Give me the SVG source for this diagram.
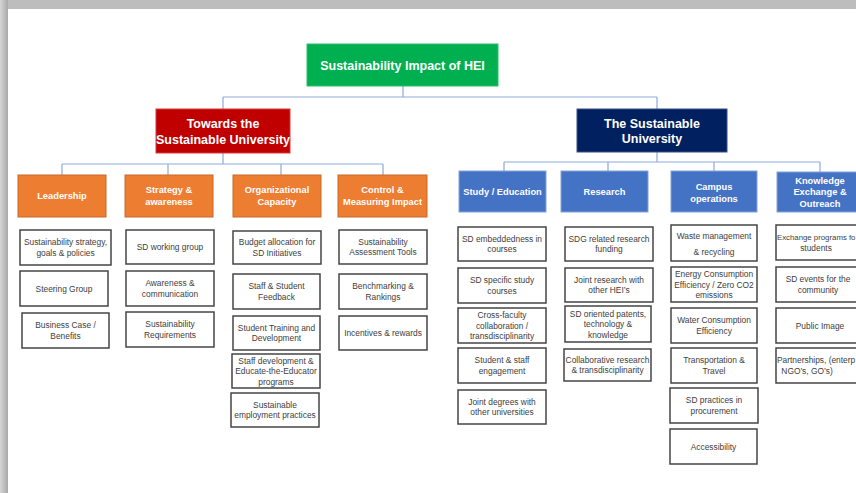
<svg xmlns="http://www.w3.org/2000/svg" width="856" height="493" viewBox="0 0 856 493">
<defs>
<linearGradient id="lg" x1="0" y1="0" x2="1" y2="0">
<stop offset="0" stop-color="#d6d6d6"/><stop offset="1" stop-color="#a8a8a8"/>
</linearGradient>
<style>
.hd{font-family:"Liberation Sans",Arial,sans-serif;font-weight:bold;fill:#fff;text-anchor:middle}
.h1{font-size:12.5px}
.h2{font-size:9.3px}
.lf rect{fill:#fff;stroke:#454545;stroke-width:1.5}
.lf text{font-family:"Liberation Sans",Arial,sans-serif;font-size:8.4px;fill:#404040;text-anchor:middle}
.lf text.st{text-anchor:start}
.org rect{fill:#ED7D31;stroke:#c9682a;stroke-width:1}
.blu rect{fill:#4472C4;stroke:#86a2d8;stroke-width:1}
.conn{fill:none;stroke:#8EAADB;stroke-width:1.2}
</style>
</defs>
<rect width="856" height="493" fill="#fff"/>
<rect x="0" y="0" width="856" height="9" fill="#bdbdbd"/>
<rect x="0" y="0" width="8" height="493" fill="url(#lg)"/>

<g id="connectors" class="conn">
<path d="M403 86V97M223 97H657M223 97V109M657 97V109"/>
<path d="M223 153V164M62 164H383M62 164V175M168 164V175M281 164V175M383 164V175"/>
<path d="M657 152V162M504 162H820M504 162V171M608 162V171M714 162V171M820 162V172"/>
</g>

<g id="root"><rect x="307" y="44" width="191" height="42" fill="#00B050" stroke="#2fbf6a"/>
<text class="hd h1" x="402.5" y="69.5">Sustainability Impact of HEI</text></g>

<g id="towards"><rect x="156" y="109" width="134" height="44" fill="#C00000" stroke="#d43a3a"/>
<text class="hd h1" x="223" y="127.5">Towards the</text><text class="hd h1" x="223" y="143.5">Sustainable University</text></g>

<g id="sustainable"><rect x="577" y="109" width="150" height="43" fill="#002060" stroke="#3a4f86"/>
<text class="hd h1" x="652" y="127.5">The Sustainable</text><text class="hd h1" x="652" y="142.5">University</text></g>

<g id="leadership" class="org"><rect x="18" y="175" width="88" height="42"/><text class="hd h2" x="62" y="199">Leadership</text></g>
<g id="strategy" class="org"><rect x="125" y="175" width="88" height="42"/><text class="hd h2" x="169" y="192.5">Strategy &amp;</text><text class="hd h2" x="169" y="204.5">awareness</text></g>
<g id="organizational" class="org"><rect x="233" y="175" width="88" height="42"/><text class="hd h2" x="277" y="192.5">Organizational</text><text class="hd h2" x="277" y="204.5">Capacity</text></g>
<g id="control" class="org"><rect x="338" y="175" width="89" height="42"/><text class="hd h2" x="382.5" y="192.5">Control &amp;</text><text class="hd h2" x="382.5" y="204.5">Measuring Impact</text></g>

<g id="study" class="blu"><rect x="459" y="171" width="87" height="41"/><text class="hd h2" x="502.5" y="194.5">Study / Education</text></g>
<g id="research" class="blu"><rect x="561" y="171" width="87" height="41"/><text class="hd h2" x="604.5" y="194.5">Research</text></g>
<g id="campus" class="blu"><rect x="671" y="171" width="86" height="41"/><text class="hd h2" x="714" y="189.5">Campus</text><text class="hd h2" x="714" y="201.5">operations</text></g>
<g id="knowledge" class="blu"><rect x="777" y="172" width="88" height="40"/><text class="hd h2" x="820" y="183.5">Knowledge</text><text class="hd h2" x="820" y="195">Exchange &amp;</text><text class="hd h2" x="820" y="206.5">Outreach</text></g>

<g id="l1" class="lf"><rect x="20" y="230" width="91" height="35"/><text x="65.5" y="245.3">Sustainability strategy,</text><text x="65.5" y="255.8">goals &amp; policies</text></g>
<g id="l2" class="lf"><rect x="20" y="271" width="88" height="35"/><text x="64" y="291.5">Steering Group</text></g>
<g id="l3" class="lf"><rect x="22" y="313" width="87" height="35"/><text x="65.5" y="328.3">Business Case /</text><text x="65.5" y="338.8">Benefits</text></g>

<g id="s1" class="lf"><rect x="126" y="230" width="88" height="34"/><text x="170" y="250">SD working group</text></g>
<g id="s2" class="lf"><rect x="126" y="271" width="88" height="35"/><text x="170" y="286.3">Awareness &amp;</text><text x="170" y="296.8">communication</text></g>
<g id="s3" class="lf"><rect x="126" y="312" width="88" height="35"/><text x="170" y="327.3">Sustainability</text><text x="170" y="337.8">Requirements</text></g>

<g id="o1" class="lf"><rect x="233" y="231" width="88" height="33"/><text x="277" y="245.3">Budget allocation for</text><text x="277" y="255.8">SD Initiatives</text></g>
<g id="o2" class="lf"><rect x="233" y="274" width="87" height="35"/><text x="276.5" y="289.3">Staff &amp; Student</text><text x="276.5" y="299.8">Feedback</text></g>
<g id="o3" class="lf"><rect x="233" y="316" width="87" height="34"/><text x="276.5" y="330.8">Student Training and</text><text x="276.5" y="341.3">Development</text></g>
<g id="o4" class="lf"><rect x="232" y="354" width="88" height="34"/><text x="276" y="363.5">Staff development &amp;</text><text x="276" y="374">Educate-the-Educator</text><text x="276" y="384.5">programs</text></g>
<g id="o5" class="lf"><rect x="231" y="393" width="88" height="34"/><text x="275" y="407.8">Sustainable</text><text x="275" y="418.3">employment practices</text></g>

<g id="c1" class="lf"><rect x="339" y="230" width="88" height="34"/><text x="383" y="244.8">Sustainability</text><text x="383" y="255.3">Assessment Tools</text></g>
<g id="c2" class="lf"><rect x="339" y="274" width="88" height="35"/><text x="383" y="289.3">Benchmarking &amp;</text><text x="383" y="299.8">Rankings</text></g>
<g id="c3" class="lf"><rect x="339" y="316" width="88" height="34"/><text x="383" y="336">Incentives &amp; rewards</text></g>

<g id="e1" class="lf"><rect x="458" y="227" width="88" height="34"/><text x="502" y="241.8">SD embeddedness in</text><text x="502" y="252.3">courses</text></g>
<g id="e2" class="lf"><rect x="458" y="268" width="88" height="35"/><text x="502" y="283.3">SD specific study</text><text x="502" y="293.8">courses</text></g>
<g id="e3" class="lf"><rect x="458" y="308" width="88" height="35"/><text x="502" y="318">Cross-faculty</text><text x="502" y="328.5">collaboration /</text><text x="502" y="339">transdisciplinarity</text></g>
<g id="e4" class="lf"><rect x="458" y="348" width="88" height="35"/><text x="502" y="363.3">Student &amp; staff</text><text x="502" y="373.8">engagement</text></g>
<g id="e5" class="lf"><rect x="458" y="390" width="88" height="34"/><text x="502" y="404.8">Joint degrees with</text><text x="502" y="415.3">other universities</text></g>

<g id="r1" class="lf"><rect x="565" y="227" width="88" height="34"/><text x="609" y="241.8">SDG related research</text><text x="609" y="252.3">funding</text></g>
<g id="r2" class="lf"><rect x="565" y="268" width="88" height="34"/><text x="609" y="282.8">Joint research with</text><text x="609" y="293.3">other HEI’s</text></g>
<g id="r3" class="lf"><rect x="565" y="306" width="86" height="36"/><text x="608" y="316.5">SD oriented patents,</text><text x="608" y="327">technology &amp;</text><text x="608" y="337.5">knowledge</text></g>
<g id="r4" class="lf"><rect x="564" y="349" width="87" height="32"/><text x="607.5" y="362.8">Collaborative research</text><text x="607.5" y="373.3">&amp; transdisciplinarity</text></g>

<g id="p1" class="lf"><rect x="671" y="225" width="86" height="36"/><text x="714" y="238.5">Waste management</text><text x="714" y="254.5">&amp; recycling</text></g>
<g id="p2" class="lf"><rect x="671" y="267" width="86" height="35"/><text x="714" y="277">Energy Consumption</text><text x="714" y="287.5">Efficiency / Zero CO2</text><text x="714" y="298">emissions</text></g>
<g id="p3" class="lf"><rect x="671" y="308" width="86" height="35"/><text x="714" y="323.3">Water Consumption</text><text x="714" y="333.8">Efficiency</text></g>
<g id="p4" class="lf"><rect x="671" y="348" width="86" height="35"/><text x="714" y="363.3">Transportation &amp;</text><text x="714" y="373.8">Travel</text></g>
<g id="p5" class="lf"><rect x="670" y="388" width="88" height="35"/><text x="714" y="403.3">SD practices in</text><text x="714" y="413.8">procurement</text></g>
<g id="p6" class="lf"><rect x="670" y="429" width="87" height="35"/><text x="713.5" y="449.5">Accessibility</text></g>

<g id="k1" class="lf"><rect x="776" y="225" width="88" height="35"/><text class="st" x="777" y="240.3" style="font-size:7.8px">Exchange programs fo</text><text x="816" y="250.8">students</text></g>
<g id="k2" class="lf"><rect x="776" y="267" width="88" height="35"/><text x="818" y="282.3">SD events for the</text><text x="818" y="292.8">community</text></g>
<g id="k3" class="lf"><rect x="776" y="308" width="88" height="35"/><text x="820" y="328.5">Public Image</text></g>
<g id="k4" class="lf"><rect x="776" y="348" width="88" height="35"/><text class="st" x="777" y="363.3">Partnerships, (enterp</text><text x="807" y="373.8">NGO’s, GO’s)</text></g>
</svg>
